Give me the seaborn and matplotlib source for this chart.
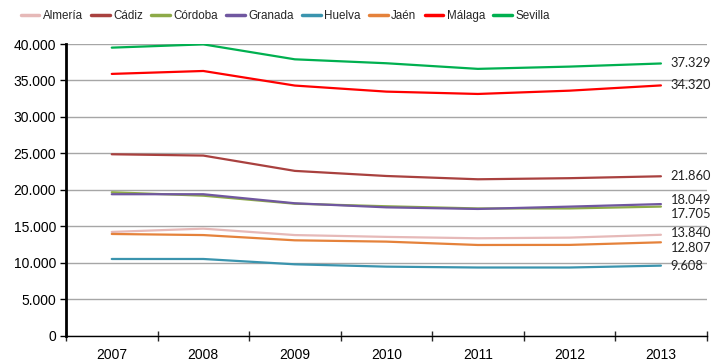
import matplotlib
matplotlib.use("Agg")
import matplotlib.pyplot as plt
import seaborn as sns
import pandas as pd
from matplotlib import font_manager
from matplotlib.ticker import FuncFormatter, FixedLocator

years = ["2007", "2008", "2009", "2010", "2011", "2012", "2013"]
provinces = ["Almería", "Cádiz", "Córdoba", "Granada", "Huelva", "Jaén", "Málaga", "Sevilla"]
almeria = [14230, 14680, 13800, 13550, 13360, 13450, 13840]
cadiz = [24880, 24700, 22600, 21900, 21450, 21600, 21860]
cordoba = [19670, 19200, 18100, 17750, 17450, 17450, 17705]
granada = [19400, 19400, 18160, 17600, 17380, 17700, 18049]
huelva = [10520, 10520, 9790, 9470, 9350, 9350, 9608]
jaen = [13950, 13800, 13080, 12900, 12440, 12450, 12807]
malaga = [35900, 36300, 34300, 33470, 33150, 33600, 34320]
sevilla = [39500, 39950, 37900, 37360, 36590, 36900, 37329]
end_labels = ["13.840", "21.860", "17.705", "18.049", "9.608", "12.807", "34.320", "37.329"]

colors = ["#E6B9B8", "#A9413F", "#8DAA48", "#7057A0", "#3A94AE", "#E5823B", "#FF0000", "#00B050"]
label_dy = [1, 0, -5, 3, 0, -4, 0, 0]  # points offset to avoid overlap

series = [almeria, cadiz, cordoba, granada, huelva, jaen, malaga, sevilla]
rows = []
for p, vals in zip(provinces, series):
    for y, v in zip(years, vals):
        rows.append({"Año": y, "Provincia": p, "Valor": v})
df = pd.DataFrame(rows)

sns.set_style("white")
plt.rcParams["font.family"] = ["Liberation Sans", "DejaVu Sans"]

names = {f.name for f in font_manager.fontManager.ttflist}
narrow = "Liberation Sans Narrow" if "Liberation Sans Narrow" in names else "Liberation Sans"

fig = plt.figure(figsize=(7.12, 3.61), dpi=100)
ax = fig.add_axes([66 / 712, 25.3 / 361, 640.7 / 712, 291.7 / 361])

sns.lineplot(data=df, x="Año", y="Valor", hue="Provincia", hue_order=provinces,
             palette=colors, linewidth=1.6, ax=ax, sort=False, legend=True)

ax.set_ylim(0, 40000)
ax.set_xlim(-0.5, len(years) - 0.5)
ax.set_yticks(range(0, 40001, 5000))
ax.yaxis.set_major_formatter(FuncFormatter(lambda v, p: f"{int(v):,}".replace(",", ".")))
ax.grid(axis="y", color="#A6A6A6", linewidth=1.0)
ax.set_axisbelow(True)
ax.set_xlabel("")
ax.set_ylabel("")

for s in ["top", "right"]:
    ax.spines[s].set_visible(False)
ax.spines["left"].set_linewidth(2.0)
ax.spines["left"].set_color("black")
ax.spines["bottom"].set_linewidth(1.0)
ax.spines["bottom"].set_color("black")

ax.tick_params(axis="y", which="major", length=4, width=1, direction="out", left=True,
               labelsize=10, pad=3, colors="black")
ax.tick_params(axis="x", which="major", length=0, labelsize=10, pad=9, colors="black")
ax.xaxis.set_minor_locator(FixedLocator([i + 0.5 for i in range(-1, len(years))]))
ax.tick_params(axis="x", which="minor", length=7, width=1, direction="inout", bottom=True)

for vals, lab, c, dy in zip(series, end_labels, colors, label_dy):
    ax.annotate(lab, xy=(len(years) - 1, vals[-1]), xytext=(7, dy),
                textcoords="offset points", va="center", ha="left",
                fontsize=9.3, family=["Lato", "DejaVu Sans"], color="#222222")

handles, labels = ax.get_legend_handles_labels()
leg = ax.legend(handles, labels, loc="center left", bbox_to_anchor=(16 / 712, 1 - 16 / 361),
                bbox_transform=fig.transFigure, ncol=8, frameon=False,
                prop={"family": [narrow, "DejaVu Sans"], "size": 8.4},
                handlelength=1.6, handletextpad=0.3, columnspacing=0.7, borderaxespad=0.0)
for line in leg.get_lines():
    line.set_linewidth(2.5)

fig.savefig("out.png", dpi=100)
